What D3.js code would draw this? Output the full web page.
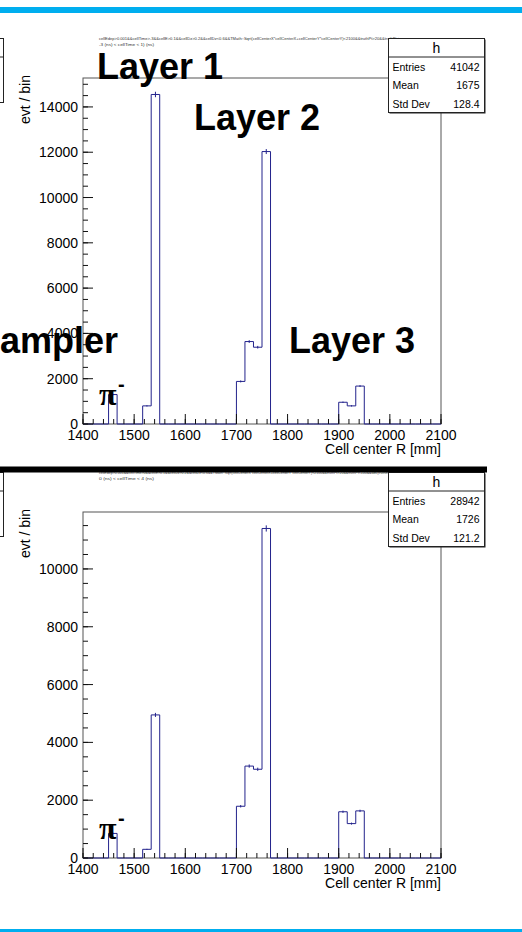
<!DOCTYPE html>
<html>
<head>
<meta charset="utf-8">
<script src="https://cdn.jsdelivr.net/npm/d3@7/dist/d3.min.js"></script>
<style>
  body { margin: 0; background: #fff; }
  svg { display: block; }
</style>
</head>
<body>
<div id="chart"></div>
<script>

// histogram definition: 42 bins from 1400 to 2100 mm
var xMin = 1400, xMax = 2100, nBins = 42;

var countsTop = [0, 0, 0, 1300, 0, 0, 0, 800, 14550, 0,
                 0, 0, 0, 0, 0, 0, 0, 0, 1880, 3640,
                 3390, 12030, 0, 0, 0, 0, 0, 0, 0, 0,
                 960, 800, 1675, 0, 0, 0, 0, 0, 0, 0,
                 0, 0];

var countsBottom = [0, 0, 0, 850, 0, 0, 0, 300, 4950, 0,
                    0, 0, 0, 0, 0, 0, 0, 0, 1790, 3180,
                    3070, 11400, 0, 0, 0, 0, 0, 0, 0, 0,
                    1600, 1190, 1630, 0, 0, 0, 0, 0, 0, 0,
                    0, 0];

var statNames = ["Entries", "Mean", "Std Dev"];
var statsTop = ["41042", "1675", "128.4"];
var statsBottom = ["28942", "1726", "121.2"];

var xTicks = [1400, 1500, 1600, 1700, 1800, 1900, 2000, 2100];
var yTicksTop = [0, 2000, 4000, 6000, 8000, 10000, 12000, 14000];
var yTicksBottom = [0, 2000, 4000, 6000, 8000, 10000];

var titleTop = ["cellEdep>0.001&&cellTime>-3&&cellE>0.1&&cellDz>0.2&&cellDz<0.6&&TMath::Sqrt(cellCenterX*cellCenterX+cellCenterY*cellCenterY)<2100&&truthPt>20&&truthPt<",
                "-3 (ns) < cellTime < 1) (ns)"];
var titleBottom = ["cellEdep>0.001&&cellTime>0&&cellE>0.1&&cellDz>0.2&&cellDz<0.6&&TMath::Sqrt(cellCenterX*cellCenterX+cellCenterY*cellCenterY)<2100&&truthPt>20&&truthPt<100&&abs(truthEta)<0.5",
                   "0 (ns) < cellTime < 4 (ns)"];

var layerNames = ["Layer 1", "Layer 2", "Layer 3", "Presampler"];

var W = 522, H = 932;
var font = "'Liberation Sans', Arial, Helvetica, sans-serif";
var histColor = "#23238c";

var svg = d3.select("#chart").append("svg")
    .attr("width", W)
    .attr("height", H);

svg.append("rect").attr("width", W).attr("height", H).attr("fill", "white");

function drawPanel(oy, counts, stats, yTicks, title, withLayers) {

    var g = svg.append("g").attr("transform", "translate(0," + oy + ")");

    var frame = { left: 83, right: 441, top: 78, bottom: 424 };

    var binW = (xMax - xMin) / nBins;
    var yMax = d3.max(counts) * 1.05;

    var x = d3.scaleLinear().domain([xMin, xMax]).range([frame.left, frame.right]);
    var y = d3.scaleLinear().domain([0, yMax]).range([frame.bottom, frame.top]);

    // partial stats box of the neighbouring pad (cut at left edge)
    g.append("rect")
        .attr("x", -90).attr("y", 38.5)
        .attr("width", 93.5).attr("height", 64)
        .attr("fill", "white").attr("stroke", "#222").attr("stroke-width", 1);
    g.append("line")
        .attr("x1", 0).attr("x2", 3.5)
        .attr("y1", 57).attr("y2", 57)
        .attr("stroke", "#222");

    // title (tiny)
    g.selectAll(".title").data(title).enter().append("text")
        .attr("x", 99)
        .attr("y", function(d, i) { return 40 + i * 5.5; })
        .attr("font-family", font)
        .attr("font-size", 4.2)
        .attr("fill", "#333")
        .attr("textLength", function(d, i) { return i == 0 ? 300 : 55; })
        .attr("lengthAdjust", "spacingAndGlyphs")
        .text(function(d) { return d; });

    // frame
    g.append("rect")
        .attr("x", frame.left).attr("y", frame.top)
        .attr("width", frame.right - frame.left)
        .attr("height", frame.bottom - frame.top)
        .attr("fill", "none")
        .attr("stroke", "#555")
        .attr("stroke-width", 1);

    // histogram outline
    var pts = counts.map(function(c, i) { return [xMin + i * binW, c]; });
    pts.push([xMax, 0]);

    var line = d3.line()
        .x(function(d) { return x(d[0]); })
        .y(function(d) { return y(d[1]); })
        .curve(d3.curveStepAfter);

    g.append("path")
        .attr("d", line(pts))
        .attr("fill", "none")
        .attr("stroke", histColor)
        .attr("stroke-width", 1);

    // error bars
    var filled = counts.map(function(c, i) { return { c: c, i: i }; })
        .filter(function(d) { return d.c > 0; });

    g.selectAll(".err").data(filled).enter().append("line")
        .attr("x1", function(d) { return x(xMin + (d.i + 0.5) * binW); })
        .attr("x2", function(d) { return x(xMin + (d.i + 0.5) * binW); })
        .attr("y1", function(d) { return y(d.c - Math.sqrt(d.c)); })
        .attr("y2", function(d) { return y(d.c + Math.sqrt(d.c)); })
        .attr("stroke", histColor)
        .attr("stroke-width", 1);

    // x axis ticks
    var xMinor = d3.range(xMin, xMax + 1, 20);
    g.selectAll(".xminor").data(xMinor).enter().append("line")
        .attr("x1", function(d) { return x(d); })
        .attr("x2", function(d) { return x(d); })
        .attr("y1", frame.bottom)
        .attr("y2", frame.bottom - 5)
        .attr("stroke", "#111");
    g.selectAll(".xmajor").data(xTicks).enter().append("line")
        .attr("x1", function(d) { return x(d); })
        .attr("x2", function(d) { return x(d); })
        .attr("y1", frame.bottom)
        .attr("y2", frame.bottom - 10)
        .attr("stroke", "#111");
    g.selectAll(".xlab").data(xTicks).enter().append("text")
        .attr("x", function(d) { return x(d); })
        .attr("y", frame.bottom + 15.5)
        .attr("text-anchor", "middle")
        .attr("font-family", font)
        .attr("font-size", 14)
        .text(function(d) { return d; });

    g.append("text")
        .attr("x", frame.right)
        .attr("y", frame.bottom + 30)
        .attr("text-anchor", "end")
        .attr("font-family", font)
        .attr("font-size", 14)
        .text("Cell center R [mm]");

    // y axis ticks
    var yMinor = d3.range(0, yMax, 500);
    g.selectAll(".yminor").data(yMinor).enter().append("line")
        .attr("x1", frame.left)
        .attr("x2", frame.left + 5)
        .attr("y1", function(d) { return y(d); })
        .attr("y2", function(d) { return y(d); })
        .attr("stroke", "#111");
    g.selectAll(".ymajor").data(yTicks).enter().append("line")
        .attr("x1", frame.left)
        .attr("x2", frame.left + 10)
        .attr("y1", function(d) { return y(d); })
        .attr("y2", function(d) { return y(d); })
        .attr("stroke", "#111");
    g.selectAll(".ylab").data(yTicks).enter().append("text")
        .attr("x", frame.left - 5)
        .attr("y", function(d) { return y(d) + 5; })
        .attr("text-anchor", "end")
        .attr("font-family", font)
        .attr("font-size", 14)
        .text(function(d) { return d; });

    g.append("text")
        .attr("transform", "translate(30," + (frame.top - 3) + ") rotate(-90)")
        .attr("text-anchor", "end")
        .attr("font-family", font)
        .attr("font-size", 14)
        .text("evt / bin");

    // stats box
    var box = { x: 388.5, y: 38.5, w: 96, h: 74 };
    g.append("rect")
        .attr("x", box.x + 1).attr("y", box.y + 1)
        .attr("width", box.w).attr("height", box.h)
        .attr("fill", "#222");
    g.append("rect")
        .attr("x", box.x).attr("y", box.y)
        .attr("width", box.w).attr("height", box.h)
        .attr("fill", "white")
        .attr("stroke", "#222")
        .attr("stroke-width", 1);
    g.append("line")
        .attr("x1", box.x).attr("x2", box.x + box.w)
        .attr("y1", box.y + 18.5).attr("y2", box.y + 18.5)
        .attr("stroke", "#222");
    g.append("text")
        .attr("x", box.x + box.w / 2)
        .attr("y", box.y + 14.5)
        .attr("text-anchor", "middle")
        .attr("font-family", font)
        .attr("font-size", 14)
        .text("h");
    g.selectAll(".sname").data(statNames).enter().append("text")
        .attr("x", box.x + 4)
        .attr("y", function(d, i) { return box.y + 32.5 + i * 18.3; })
        .attr("font-family", font)
        .attr("font-size", 10.5)
        .text(function(d) { return d; });
    g.selectAll(".sval").data(stats).enter().append("text")
        .attr("x", box.x + box.w - 5)
        .attr("y", function(d, i) { return box.y + 32.5 + i * 18.3; })
        .attr("text-anchor", "end")
        .attr("font-family", font)
        .attr("font-size", 10.5)
        .text(function(d) { return d; });

    // pi- label
    g.append("text")
        .attr("x", 99)
        .attr("y", 405)
        .attr("font-family", "'Liberation Serif', 'DejaVu Serif', serif")
        .attr("font-weight", "bold")
        .attr("font-size", 32)
        .text("\u03C0");
    g.append("text")
        .attr("x", 118)
        .attr("y", 391)
        .attr("font-family", font)
        .attr("font-weight", "bold")
        .attr("font-size", 20)
        .text("-");

    if (withLayers) {
        var pos = [[97, 79, "start"], [194, 130, "start"], [289, 353, "start"], [118, 353, "end"]];
        g.selectAll(".layer").data(layerNames).enter().append("text")
            .attr("x", function(d, i) { return pos[i][0]; })
            .attr("y", function(d, i) { return pos[i][1]; })
            .attr("text-anchor", function(d, i) { return pos[i][2]; })
            .attr("font-family", font)
            .attr("font-weight", "bold")
            .attr("font-size", 36)
            .text(function(d) { return d; });
    }
}

drawPanel(0, countsTop, statsTop, yTicksTop, titleTop, true);
drawPanel(434, countsBottom, statsBottom, yTicksBottom, titleBottom, false);

// slide decorations
svg.append("rect").attr("x", 0).attr("y", 7).attr("width", W).attr("height", 6).attr("fill", "#00aeef");
svg.append("rect").attr("x", 0).attr("y", 466.5).attr("width", 487).attr("height", 6).attr("fill", "#000");
svg.append("rect").attr("x", 0).attr("y", 929).attr("width", W).attr("height", 3).attr("fill", "#00aeef");

</script>
</body>
</html>
